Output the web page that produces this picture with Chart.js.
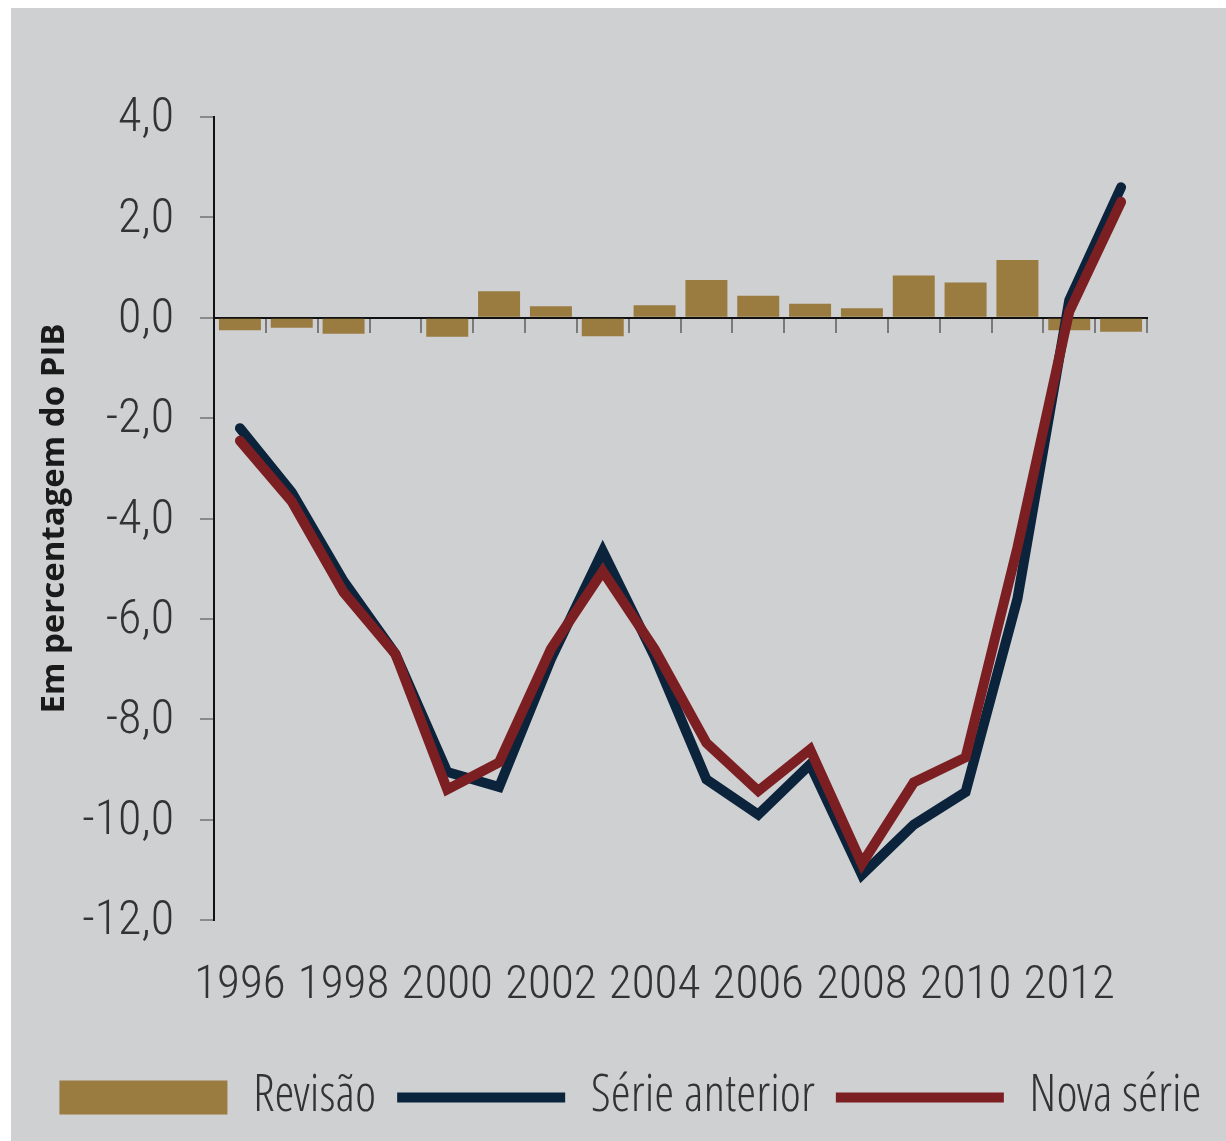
<!DOCTYPE html>
<html>
<head>
<meta charset="utf-8">
<script src="https://cdn.jsdelivr.net/npm/chart.js@4.4.1/dist/chart.umd.min.js"></script>
<style>
    body { margin: 0; background: #ffffff; }
    .panel { position: absolute; left: 11px; top: 8px; width: 1215px; height: 1133px; background: #cfd0d2; }
</style>
</head>
<body>
<div class="panel"><canvas id="saldoChart" width="1215" height="1133"></canvas></div>
<script>
// Dados
const anos = ['1996', '1997', '1998', '1999', '2000', '2001', '2002', '2003', '2004',
              '2005', '2006', '2007', '2008', '2009', '2010', '2011', '2012', '2013'];
const revisao = [-0.25, -0.2, -0.32, 0.02, -0.38, 0.53, 0.23, -0.37, 0.25,
                 0.75, 0.44, 0.28, 0.19, 0.84, 0.70, 1.15, -0.25, -0.28];
const serieAnterior = [-2.2, -3.48, -5.25, -6.7, -9.05, -9.35, -6.8, -4.65, -6.75,
                       -9.2, -9.9, -8.9, -11.1, -10.1, -9.45, -5.6, 0.35, 2.6];
const novaSerie = [-2.45, -3.66, -5.47, -6.7, -9.4, -8.86, -6.6, -5.05, -6.6,
                   -8.47, -9.43, -8.6, -10.88, -9.26, -8.76, -4.58, 0.12, 2.31];
const yMin = -12, yMax = 4, yStep = 2;

const legendFont = "'Open Sans Condensed Light', 'Roboto Condensed', sans-serif";
const tickFont = "'Roboto Condensed Light', 'Roboto Condensed', 'Open Sans Condensed Light', sans-serif";
const textColor = '#333333';

const ctx = document.getElementById('saldoChart');
new Chart(ctx, {
    type: 'bar',
    data: {
        labels: anos,
        datasets: [{
            label: 'Revisão',
            data: revisao,
            backgroundColor: '#9a7b40',
            borderWidth: 0,
            barPercentage: 0.81,
            categoryPercentage: 1,
            pointStyle: 'rect',
            order: 3
        }, {
            type: 'line',
            label: 'Série anterior',
            data: serieAnterior,
            borderColor: '#0b233b',
            backgroundColor: '#0b233b',
            borderWidth: 10,
            borderCapStyle: 'round',
            borderJoinStyle: 'miter',
            pointRadius: 0,
            pointStyle: 'line',
            tension: 0,
            order: 2
        }, {
            type: 'line',
            label: 'Nova série',
            data: novaSerie,
            borderColor: '#7c1f22',
            backgroundColor: '#7c1f22',
            borderWidth: 10,
            borderCapStyle: 'round',
            borderJoinStyle: 'miter',
            pointRadius: 0,
            pointStyle: 'line',
            tension: 0,
            order: 1
        }]
    },
    options: {
        responsive: false,
        animation: false,
        layout: {
            padding: { top: 109, left: 24, right: 0, bottom: 8 }
        },
        plugins: {
            tooltip: { enabled: false },
            legend: {
                position: 'bottom',
                labels: {
                    usePointStyle: true,
                    pointStyleWidth: 168,
                    boxHeight: 34,
                    padding: 21,
                    color: textColor,
                    font: { family: legendFont, size: 51 },
                    sort: function(a, b) { return a.datasetIndex - b.datasetIndex; }
                }
            }
        },
        scales: {
            x: {
                type: 'category',
                offset: true,
                grid: { display: false, offset: true },
                border: { display: false },
                ticks: {
                    autoSkip: false,
                    maxRotation: 0,
                    padding: 28,
                    color: textColor,
                    font: { family: tickFont, size: 47, weight: '300' },
                    callback: function(value, index) {
                        return index % 2 === 0 ? this.getLabelForValue(value) : '';
                    }
                },
                afterFit: function(scale) { scale.height = 131; }
            },
            x2: {
                type: 'category',
                axis: 'x',
                position: { y: 0 },
                offset: true,
                grid: {
                    offset: true,
                    drawOnChartArea: false,
                    tickLength: 14,
                    lineWidth: 2,
                    color: '#7a7a7a'
                },
                border: { color: '#111111', width: 2 },
                ticks: { display: false },
                afterFit: function(scale) { scale.height = 0; }
            },
            y: {
                min: yMin,
                max: yMax,
                grid: {
                    drawOnChartArea: false,
                    tickLength: 14,
                    lineWidth: 2,
                    color: '#8a8a8a'
                },
                border: { color: '#111111', width: 2 },
                ticks: {
                    stepSize: yStep,
                    padding: 26,
                    color: textColor,
                    font: { family: tickFont, size: 48, weight: '300' },
                    callback: function(value) {
                        return value.toFixed(1).replace('.', ',');
                    }
                },
                title: {
                    display: true,
                    text: 'Em percentagem do PIB',
                    color: '#1a1a1a',
                    padding: { top: 0, bottom: 0 },
                    font: { family: "'Open Sans', sans-serif", size: 33, weight: 'bold', lineHeight: 1.2 }
                },
                afterFit: function(scale) { scale.width = 179; }
            },
            yRight: {
                position: 'right',
                display: true,
                grid: { display: false },
                border: { display: false },
                ticks: { display: false },
                afterFit: function(scale) { scale.width = 79; }
            }
        }
    }
});
</script>
</body>
</html>
